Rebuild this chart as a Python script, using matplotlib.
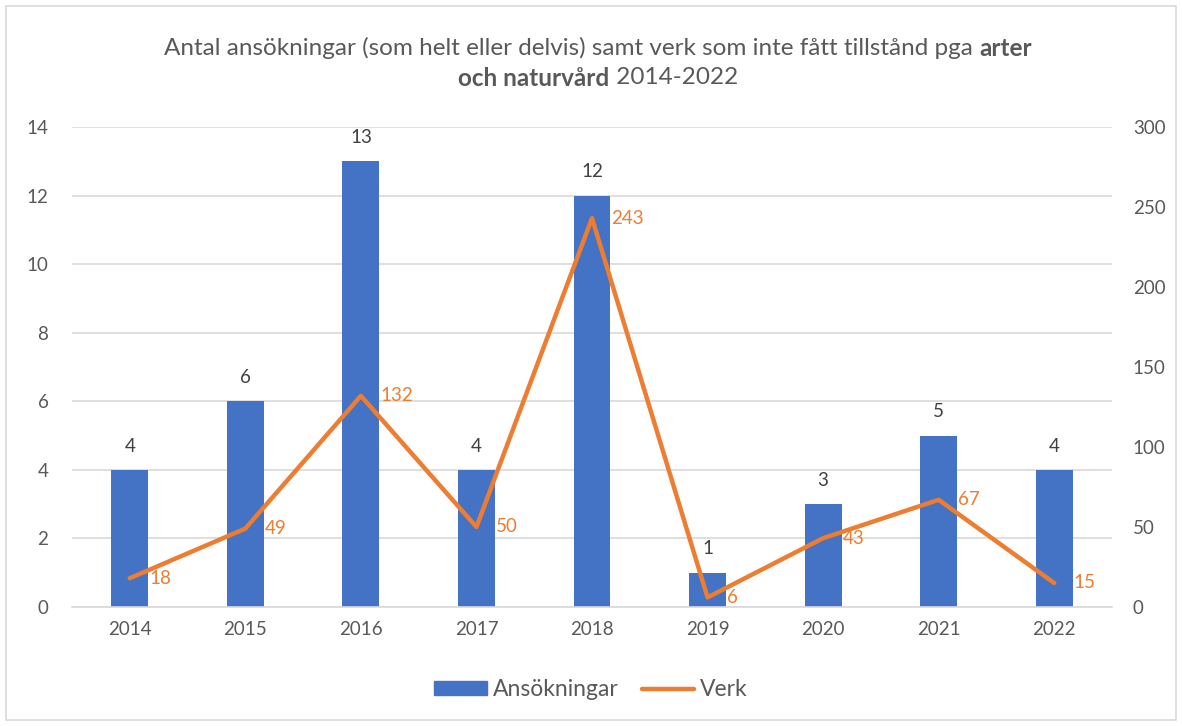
import matplotlib
matplotlib.use("Agg")
import matplotlib.pyplot as plt
from matplotlib.lines import Line2D
from matplotlib.patches import Patch, Rectangle

years = ["2014", "2015", "2016", "2017", "2018", "2019", "2020", "2021", "2022"]
ansokningar = [4, 6, 13, 4, 12, 1, 3, 5, 4]
verk = [18, 49, 132, 50, 243, 6, 43, 67, 15]

BLUE = "#4472C4"
ORANGE = "#ED7D31"
GRAY_TXT = "#595959"
GRID = "#D9D9D9"
FONT = "Lato"

plt.rcParams["font.family"] = [FONT, "DejaVu Sans"]

W, H = 1182, 726
fig = plt.figure(figsize=(W / 100, H / 100), dpi=100)

# outer chart border
fig.patches.append(Rectangle((6 / W, 6 / H), 1170 / W, 714 / H, transform=fig.transFigure,
                             fill=False, edgecolor="#D9D9D9", linewidth=1.2))

left, right, top, bottom = 72, 1112, 127, 607
ax = fig.add_axes([left / W, 1 - bottom / H, (right - left) / W, (bottom - top) / H])
ax2 = ax.twinx()

x = list(range(len(years)))
ax.bar(x, ansokningar, width=0.32, color=BLUE, zorder=2)
ax.set_ylim(0, 14)
ax.set_yticks(range(0, 15, 2))
ax.set_xlim(-0.5, len(years) - 0.5)
ax.set_xticks(x)
ax.set_xticklabels(years)
ax.grid(axis="y", color=GRID, linewidth=1.2, zorder=0)
ax.set_axisbelow(True)

ax2.plot(x, verk, color=ORANGE, linewidth=3.2, solid_capstyle="round", zorder=3)
ax2.set_ylim(0, 300)
ax2.set_yticks(range(0, 301, 50))

for a in (ax, ax2):
    for s in a.spines.values():
        s.set_visible(False)
    a.tick_params(length=0, colors=GRAY_TXT, labelsize=13.5)
ax.tick_params(axis="y", pad=17)
ax2.tick_params(axis="y", pad=15)
ax.tick_params(axis="x", pad=10)
ax.spines["bottom"].set_visible(True)
ax.spines["bottom"].set_color(GRID)
ax.spines["bottom"].set_linewidth(1.2)

for xi, v in zip(x, ansokningar):
    ax.annotate(str(v), (xi, v), xytext=(0, 11), textcoords="offset points",
                ha="center", va="bottom", fontsize=13.5, color="#404040")
for xi, v in zip(x, verk):
    ax2.annotate(str(v), (xi, v), xytext=(14, 0), textcoords="offset points",
                 ha="left", va="center", fontsize=13.5, color=ORANGE)

# legend
handles = [Patch(facecolor=BLUE, edgecolor=BLUE),
           Line2D([0], [0], color=ORANGE, linewidth=3.2, solid_capstyle="round")]
fig.legend(handles, ["Ansökningar", "Verk"], loc="center", bbox_to_anchor=(0.5, 1 - 690 / H),
           ncol=2, frameon=False, fontsize=16.5, labelcolor=GRAY_TXT,
           handlelength=2.3, handleheight=0.55, handletextpad=0.25, columnspacing=1.0)

# title with mixed weight
title_size = 17.5
fig.canvas.draw()
renderer = fig.canvas.get_renderer()

def place_line(parts, ycenter_px):
    texts = []
    widths = []
    for s, wt in parts:
        t = fig.text(0, 0, s, fontsize=title_size, fontweight=wt, color=GRAY_TXT,
                     ha="left", va="center")
        bb = t.get_window_extent(renderer=renderer)
        texts.append(t)
        widths.append(bb.width)
    total = sum(widths)
    xpos = (W - total) / 2 + 7
    for t, w in zip(texts, widths):
        t.set_position((xpos / W, 1 - ycenter_px / H))
        xpos += w

place_line([("Antal ansökningar (som helt eller delvis) samt verk som inte fått tillstånd pga ", "normal"),
            ("arter", "bold")], 48)
place_line([("och naturvård", "bold"), (" 2014-2022", "normal")], 78)

fig.savefig("out.png", dpi=100)
